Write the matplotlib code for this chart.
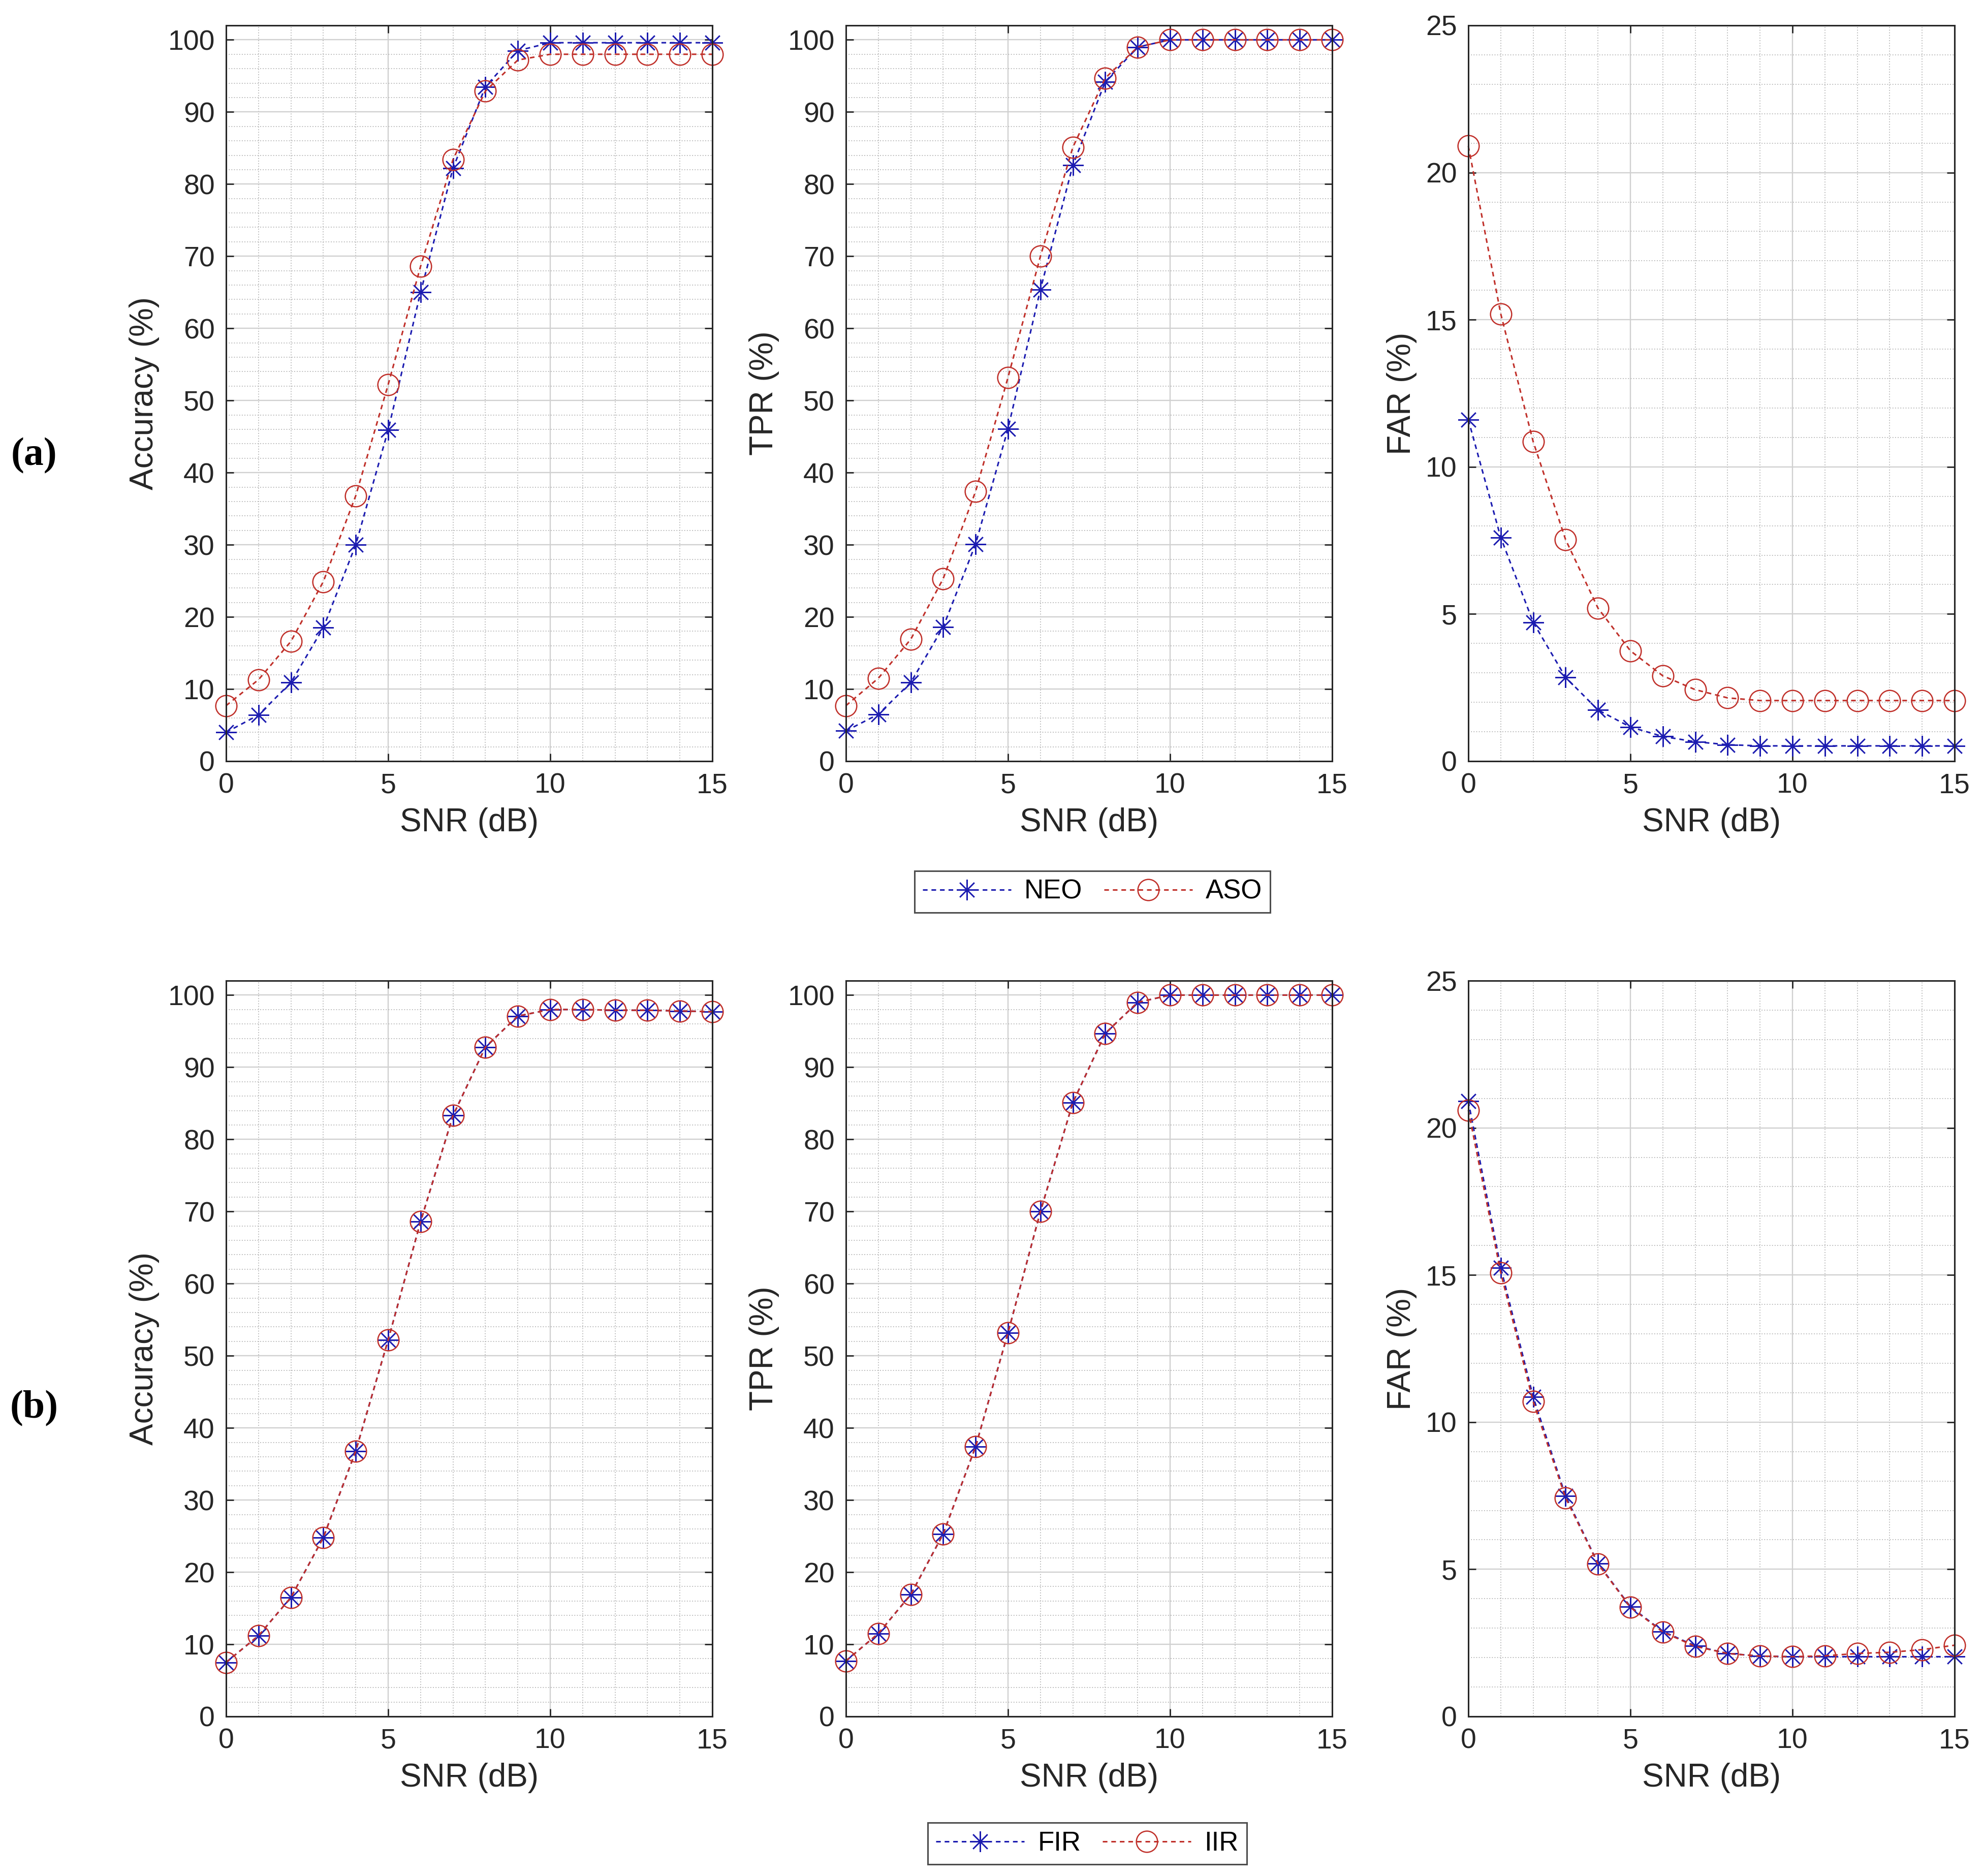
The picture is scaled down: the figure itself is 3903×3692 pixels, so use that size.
import numpy as np
import matplotlib.pyplot as plt
from matplotlib.ticker import MultipleLocator

plt.rcParams['font.family'] = ['Liberation Sans', 'DejaVu Sans']

# SNR values (dB)
snr = np.arange(0, 16)

# (a) NEO vs ASO
acc_neo = [4.0, 6.4, 10.9, 18.5, 30.0, 45.9, 65.0, 82.2, 93.5, 98.5,
           99.6, 99.6, 99.6, 99.6, 99.6, 99.6]
acc_aso = [7.7, 11.3, 16.6, 24.9, 36.8, 52.2, 68.6, 83.4, 92.9, 97.2,
           98.0, 98.0, 98.0, 98.0, 98.0, 98.0]
tpr_neo = [4.2, 6.5, 10.9, 18.6, 30.1, 46.1, 65.4, 82.6, 94.2, 99.0,
           100, 100, 100, 100, 100, 100]
tpr_aso = [7.7, 11.5, 16.9, 25.3, 37.4, 53.2, 70.0, 85.1, 94.7, 99.0,
           100, 100, 100, 100, 100, 100]
far_neo = [11.6, 7.6, 4.72, 2.85, 1.74, 1.16, 0.84, 0.66, 0.56, 0.52,
           0.52, 0.52, 0.52, 0.52, 0.52, 0.52]
far_aso = [20.9, 15.2, 10.86, 7.53, 5.2, 3.75, 2.9, 2.43, 2.15, 2.06,
           2.06, 2.06, 2.06, 2.06, 2.06, 2.06]

# (b) FIR vs IIR
acc_fir = [7.5, 11.2, 16.5, 24.8, 36.8, 52.2, 68.6, 83.3, 92.8, 97.1,
           98.0, 98.0, 97.9, 97.9, 97.8, 97.7]
acc_iir = [7.5, 11.2, 16.5, 24.8, 36.8, 52.2, 68.6, 83.3, 92.8, 97.1,
           98.0, 98.0, 97.9, 97.9, 97.8, 97.7]
tpr_fir = [7.7, 11.5, 16.9, 25.3, 37.4, 53.2, 70.0, 85.1, 94.7, 99.0,
           100, 100, 100, 100, 100, 100]
tpr_iir = [7.7, 11.5, 16.9, 25.3, 37.4, 53.2, 70.0, 85.1, 94.7, 99.0,
           100, 100, 100, 100, 100, 100]
far_fir = [20.9, 15.25, 10.86, 7.49, 5.2, 3.73, 2.89, 2.4, 2.14, 2.05,
           2.03, 2.03, 2.03, 2.03, 2.03, 2.03]
far_iir = [20.6, 15.08, 10.7, 7.43, 5.18, 3.71, 2.87, 2.38, 2.14, 2.05,
           2.03, 2.06, 2.14, 2.18, 2.27, 2.42]

ylabels = ['Accuracy (%)', 'TPR (%)', 'FAR (%)']
rows = [
    (['NEO', 'ASO'], [(acc_neo, acc_aso), (tpr_neo, tpr_aso), (far_neo, far_aso)]),
    (['FIR', 'IIR'], [(acc_fir, acc_iir), (tpr_fir, tpr_iir), (far_fir, far_iir)]),
]

blue = '#1c1cb0'
red = '#c0302a'
star = (8, 2, 0)
dash = (0, (3, 2.5))

W, H = 3903, 3692
fig = plt.figure(figsize=(W / 100, H / 100), dpi=100)

col_left = [445, 1665, 2890]
col_w = 957
row_top = [50, 1930]
row_h = 1448


def style_axes(ax, is_far):
    ax.set_xlim(0, 15)
    ax.xaxis.set_major_locator(MultipleLocator(5))
    ax.xaxis.set_minor_locator(MultipleLocator(1))
    if is_far:
        ax.set_ylim(0, 25)
        ax.yaxis.set_major_locator(MultipleLocator(5))
        ax.yaxis.set_minor_locator(MultipleLocator(1))
    else:
        ax.set_ylim(0, 102)
        ax.set_yticks(np.arange(0, 101, 10))
        ax.yaxis.set_minor_locator(MultipleLocator(2))
    ax.grid(True, which='major', color='#d0d0d0', linewidth=1.7)
    ax.grid(True, which='minor', color='#bdbdbd', linestyle=':', linewidth=1.4)
    ax.set_axisbelow(True)
    ax.tick_params(which='major', direction='in', length=11, width=2,
                   top=True, right=True, labelsize=40, pad=16,
                   colors='#262626')
    ax.tick_params(which='minor', length=0)
    for s in ax.spines.values():
        s.set_linewidth(2.2)
        s.set_color('#262626')


for r, (names, panels) in enumerate(rows):
    handles = None
    for c, (y1, y2) in enumerate(panels):
        left = col_left[c] / W
        bottom = 1 - (row_top[r] + row_h) / H
        ax = fig.add_axes([left, bottom, col_w / W, row_h / H])
        l1, = ax.plot(snr, y1, color=blue, linestyle=dash, linewidth=2.2,
                      marker=star, markersize=29, markeredgewidth=1.8,
                      label=names[0])
        l2, = ax.plot(snr, y2, color=red, linestyle=dash, linewidth=2.2,
                      marker='o', markersize=30, markerfacecolor='none',
                      markeredgewidth=1.8, label=names[1])
        l1.set_clip_on(False)
        l2.set_clip_on(False)
        style_axes(ax, c == 2)
        ax.set_xlabel('SNR (dB)', fontsize=46, labelpad=12, color='#262626')
        ax.set_ylabel(ylabels[c], fontsize=46, labelpad=12, color='#262626')
        if c == 0:
            handles = [l1, l2]
    # legend under each row
    if r == 0:
        cx, cy = 2150, 1755
    else:
        cx, cy = 2140, 3628
    leg = fig.legend(handles=handles, loc='center', ncol=2,
                     bbox_to_anchor=(cx / W, 1 - cy / H), fontsize=38,
                     frameon=True, fancybox=False, edgecolor='#202020',
                     handlelength=3.3, columnspacing=0.8, handletextpad=0.5,
                     borderpad=0.3, borderaxespad=0.2)
    leg.get_frame().set_linewidth(2.2)

# row labels
fig.text(67 / W, 1 - 897 / H, '(a)', fontsize=56, fontweight='bold',
         family='Liberation Serif', ha='center', va='center')
fig.text(67 / W, 1 - 2772 / H, '(b)', fontsize=56, fontweight='bold',
         family='Liberation Serif', ha='center', va='center')

fig.savefig('out.png', dpi=100)
